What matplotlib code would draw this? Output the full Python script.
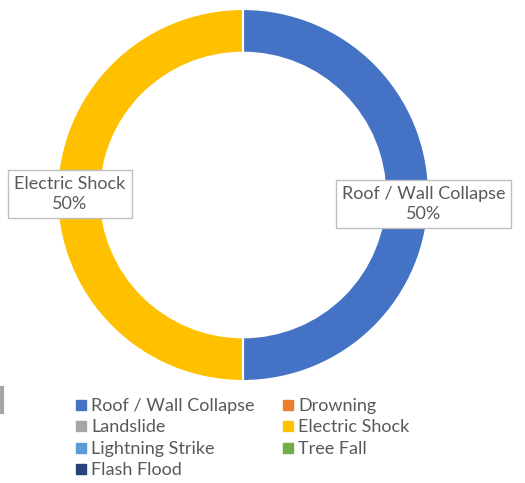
import matplotlib
matplotlib.use("Agg")
import matplotlib.pyplot as plt
from matplotlib.lines import Line2D

plt.rcParams['font.family'] = ['Lato', 'DejaVu Sans']

# data
categories = ['Roof / Wall Collapse', 'Drowning', 'Landslide', 'Electric Shock',
              'Lightning Strike', 'Tree Fall', 'Flash Flood']
values = [1, 0, 0, 1, 0, 0, 0]
colors = ['#4472C4', '#ED7D31', '#A5A5A5', '#FFC000', '#5B9BD5', '#70AD47', '#264478']

W, H = 525, 483
fig = plt.figure(figsize=(W / 100, H / 100), dpi=100)

# donut axes: centre (243, 195) px from top, radius 186 px
cx, cy, r = 243, 195, 186
ax = fig.add_axes([(cx - r) / W, (H - cy - r) / H, 2 * r / W, 2 * r / H])

shown = [i for i, v in enumerate(values) if v > 0]
wedges, _ = ax.pie([values[i] for i in shown], colors=[colors[i] for i in shown],
                   startangle=90, counterclock=False, radius=1,
                   wedgeprops=dict(width=0.235, edgecolor='white', linewidth=1.5))
ax.set_xlim(-1, 1)
ax.set_ylim(-1, 1)
ax.set_aspect('equal')
ax.axis('off')

# data labels
total = sum(values)
label_pos = {0: (0.97, -0.05), 3: (-0.93, 0.005)}
for i in shown:
    x, y = label_pos[i]
    ax.text(x, y, f"{categories[i]}\n{values[i] / total:.0%}", ha='center', va='center',
            fontsize=13, color='#595959', linespacing=1.3,
            bbox=dict(boxstyle='square,pad=0.33', fc='white', ec='#BFBFBF', lw=1))

# legend
order = [0, 2, 4, 6, 1, 3, 5]
handles = [Line2D([], [], marker='s', linestyle='none', markersize=6.5,
                  markerfacecolor=colors[i], markeredgecolor=colors[i]) for i in order]
fig.legend(handles, [categories[i] for i in order], ncol=2, frameon=False,
           loc='upper left', bbox_to_anchor=(66 / W, 1 - 389 / H),
           fontsize=13, labelcolor='#595959', handlelength=0.7, handletextpad=0.2,
           columnspacing=1.5, labelspacing=0.3, borderpad=0)

# stray grey mark at left edge
fig.add_artist(Line2D([1.5 / W, 1.5 / W], [1 - 388 / H, 1 - 412 / H],
                      color='#A6A6A6', lw=3, transform=fig.transFigure))

fig.savefig('out.png', dpi=100)
